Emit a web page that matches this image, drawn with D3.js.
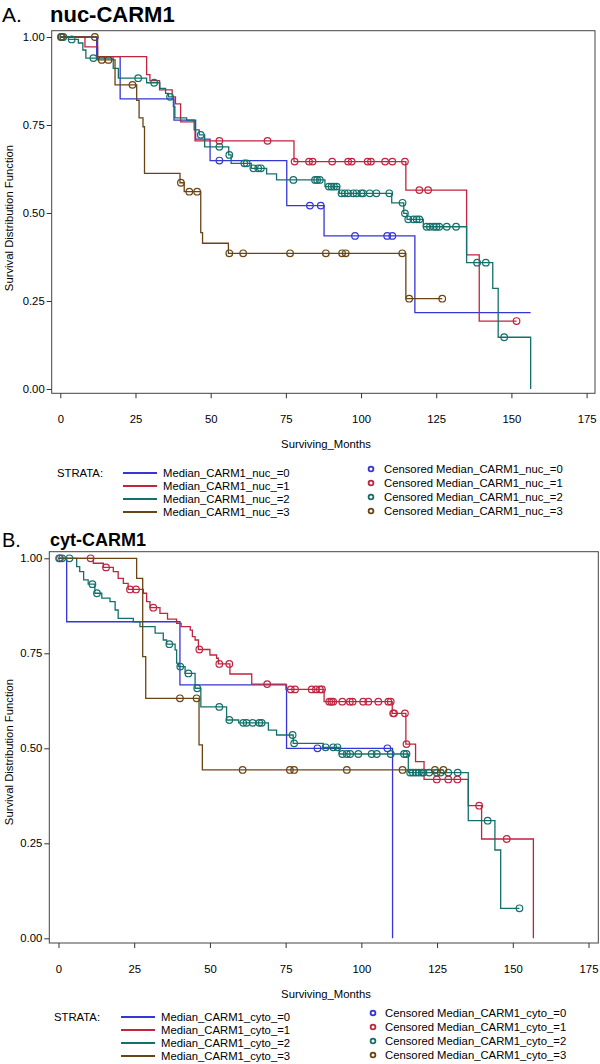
<!DOCTYPE html>
<html><head><meta charset="utf-8">
<script src="https://cdn.jsdelivr.net/npm/d3@7/dist/d3.min.js"></script>
<style>
body{margin:0;background:#fff}
svg{display:block}
text{font-family:"Liberation Sans",Arial,Helvetica,sans-serif;fill:#000}
</style>
</head><body>
<svg id="chart" width="600" height="1064"></svg>
<script>
// ---------- shared axis data ----------
const xTicks = [0, 25, 50, 75, 100, 125, 150, 175];
const xTickLabels = ["0", "25", "50", "75", "100", "125", "150", "175"];
const yTicks = [0, 0.25, 0.5, 0.75, 1];
const yTickLabels = ["0.00", "0.25", "0.50", "0.75", "1.00"];
const xAxisTitle = "Surviving_Months";
const yAxisTitle = "Survival Distribution Function";
const seriesColors = ["#3535d8", "#c0243f", "#13706a", "#6b4414"];

// ---------- Panel A : nuc-CARM1 ----------
const nucTitle = ["A.", "nuc-CARM1"];
const nucStrata = ["Median_CARM1_nuc_=0", "Median_CARM1_nuc_=1", "Median_CARM1_nuc_=2", "Median_CARM1_nuc_=3"];
const nucCensLabels = ["Censored Median_CARM1_nuc_=0", "Censored Median_CARM1_nuc_=1", "Censored Median_CARM1_nuc_=2", "Censored Median_CARM1_nuc_=3"];

const nuc0Steps = [[12.1,0.944],[19.9,0.824],[37.8,0.764],[45.0,0.710],[49.8,0.649],[75.3,0.521],[87.7,0.435],[117.9,0.217]];
const nuc0End = 156.4;
const nuc0Cens = [52.9, 83.0, 86.6, 98.0, 108.7, 110.4];

const nuc1Steps = [[8.2,0.972],[12.4,0.944],[28.7,0.893],[29.8,0.876],[33.0,0.850],[37.2,0.830],[38.3,0.810],[40.0,0.759],[44.8,0.705],[77.7,0.646],[114.9,0.565],[135.1,0.381],[139.3,0.193]];
const nuc1End = 151.7;
const nuc1Cens = [52.9, 68.9, 77.9, 82.7, 83.9, 90.4, 95.7, 96.9, 102.2, 103.3, 108.0, 110.4, 114.6, 119.4, 122.3, 151.7];

const nuc2Steps = [[2.7,0.993],[6.0,0.983],[7.5,0.963],[8.5,0.940],[17.6,0.911],[19.3,0.883],[28.7,0.870],[33.1,0.854],[35.0,0.840],[36.0,0.830],[37.6,0.802],[38.1,0.770],[42.0,0.764],[44.5,0.736],[46.2,0.722],[48.0,0.688],[56.0,0.665],[56.8,0.641],[63.5,0.627],[68.6,0.611],[71.9,0.594],[88.0,0.575],[92.8,0.556],[110.2,0.529],[114.2,0.499],[115.3,0.482],[120.7,0.461],[135.1,0.359],[143.8,0.286],[145.6,0.147],[156.4,0]];
const nuc2End = 156.4;
const nuc2Cens = [0.2, 1.0, 3.8, 11.0, 25.9, 31.2, 36.5, 46.7, 52.9, 56.2, 61.2, 62.0, 64.2, 65.8, 66.7, 77.5, 84.7, 85.4, 86.3, 89.3, 90.2, 91.0, 91.9, 93.5, 94.6, 95.7, 97.4, 98.5, 100.1, 100.7, 102.9, 105.1, 109.4, 113.8, 114.6, 115.7, 117.4, 118.5, 119.4, 121.8, 122.9, 124.2, 125.1, 126.0, 128.5, 131.6, 138.6, 141.5, 147.6];

const nuc3Steps = [[12.4,0.935],[18.2,0.864],[25.4,0.820],[26.2,0.770],[27.5,0.745],[28.0,0.6125],[39.8,0.586],[41.2,0.5605],[46.7,0.444],[47.3,0.414],[55.9,0.3855],[114.9,0.2566]];
const nuc3End = 127.0;
const nuc3Cens = [0.5, 11.5, 13.8, 16.0, 24.0, 40.1, 42.9, 45.5, 56.2, 60.8, 76.4, 88.3, 93.7, 94.9, 113.7, 116.0, 127.0];

// ---------- Panel B : cyt-CARM1 ----------
const cytTitle = ["B.", "cyt-CARM1"];
const cytStrata = ["Median_CARM1_cyto_=0", "Median_CARM1_cyto_=1", "Median_CARM1_cyto_=2", "Median_CARM1_cyto_=3"];
const cytCensLabels = ["Censored Median_CARM1_cyto_=0", "Censored Median_CARM1_cyto_=1", "Censored Median_CARM1_cyto_=2", "Censored Median_CARM1_cyto_=3"];

const cyt0Steps = [[2.7,0.833],[40.1,0.667],[75.3,0.500],[110.3,0]];
const cyt0End = 110.3;
const cyt0Cens = [85.5, 108.6];

const cyt1Steps = [[11.5,0.987],[14.8,0.976],[18.1,0.965],[19.7,0.947],[21.4,0.934],[23.0,0.918],[28.0,0.908],[29.1,0.886],[30.2,0.870],[33.5,0.855],[36.0,0.840],[39.0,0.829],[40.5,0.820],[43.5,0.811],[44.2,0.794],[45.1,0.785],[46.2,0.760],[50.0,0.7455],[52.2,0.737],[52.8,0.722],[56.6,0.6955],[63.8,0.669],[75.1,0.655],[87.7,0.6228],[110.2,0.592],[114.7,0.511],[117.9,0.465],[120.7,0.418],[135.3,0.349],[139.7,0.2613],[156.8,0]];
const cyt1End = 156.8;
const cyt1Cens = [0.5, 10.6, 15.7, 23.6, 25.6, 31.3, 46.5, 53.1, 56.4, 68.9, 76.7, 78.1, 83.6, 85.0, 86.3, 87.0, 89.4, 90.1, 90.7, 93.7, 96.2, 97.1, 100.6, 102.3, 105.6, 108.9, 109.7, 110.5, 110.8, 114.4, 114.9, 124.9, 128.7, 131.7, 138.9, 148.0];

const cyt2Steps = [[6.0,0.978],[7.0,0.965],[8.3,0.943],[9.8,0.932],[12.0,0.908],[14.3,0.895],[17.0,0.886],[18.7,0.864],[19.7,0.842],[24.7,0.833],[26.9,0.820],[31.9,0.803],[34.6,0.785],[35.7,0.774],[38.5,0.759],[39.0,0.724],[39.6,0.715],[41.8,0.697],[45.1,0.658],[47.0,0.609],[55.5,0.5745],[59.5,0.567],[69.3,0.548],[72.0,0.535],[77.5,0.513],[87.4,0.5026],[92.7,0.485],[115.5,0.436],[135.3,0.3095],[144.1,0.2324],[146.0,0.079]];
const cyt2End = 152.2;
const cyt2Cens = [0.2, 1.2, 3.6, 11.2, 12.7, 36.6, 40.2, 42.9, 45.8, 53.1, 56.4, 61.0, 62.1, 64.1, 66.3, 67.1, 77.3, 77.8, 88.2, 90.7, 92.1, 93.7, 95.2, 96.3, 99.0, 103.4, 105.1, 109.7, 114.1, 114.9, 116.1, 117.0, 118.0, 119.0, 120.0, 120.5, 122.4, 124.9, 126.2, 128.7, 131.8, 141.7, 152.2];

const cyt3Steps = [[25.8,0.947],[27.8,0.741],[28.8,0.6316],[46.4,0.509],[47.5,0.443]];
const cyt3End = 127.1;
const cyt3Cens = [40.1, 45.6, 60.8, 76.4, 77.8, 95.2, 113.6, 124.3, 127.1];

// ---------- layout (positions only) ----------
const panels = [
  {
    title: nucTitle, strata: nucStrata, cens: nucCensLabels,
    series: [
      {steps: nuc0Steps, end: nuc0End, cens: nuc0Cens},
      {steps: nuc1Steps, end: nuc1End, cens: nuc1Cens},
      {steps: nuc2Steps, end: nuc2End, cens: nuc2Cens},
      {steps: nuc3Steps, end: nuc3End, cens: nuc3Cens}
    ],
    frame: {l: 51.7, r: 595, t: 30.7, b: 393.3},
    xr: [60.3, 586.6], yr: [389, 37],
    titleY: 22, titleSize: 21, title2Size: 22, title2Y: 22, yLabelC: 218,
    strataX: 57, lineX: [123, 157], labelX: 163, circX: 371, censX: 384,
    strataRows: [473, 486, 499, 512], censRows: [469, 483, 497, 511]
  },
  {
    title: cytTitle, strata: cytStrata, cens: cytCensLabels,
    series: [
      {steps: cyt0Steps, end: cyt0End, cens: cyt0Cens},
      {steps: cyt1Steps, end: cyt1End, cens: cyt1Cens},
      {steps: cyt2Steps, end: cyt2End, cens: cyt2Cens},
      {steps: cyt3Steps, end: cyt3End, cens: cyt3Cens}
    ],
    frame: {l: 49.3, r: 598.3, t: 551.7, b: 943},
    xr: [58.5, 588.5], yr: [938.3, 558.3],
    titleY: 547, titleSize: 20, title2Size: 18, title2Y: 546, yLabelC: 752,
    strataX: 54, lineX: [121, 155], labelX: 161, circX: 373, censX: 385,
    strataRows: [1017, 1030, 1043, 1056], censRows: [1013, 1027, 1041, 1055]
  }
];

const svg = d3.select("#chart");
const FS = 11.3;

function survAt(steps, t) {
  let s = 1;
  for (const [st, sv] of steps) { if (st <= t) s = sv; else break; }
  return s;
}

panels.forEach(p => {
  const g = svg.append("g");
  const x = d3.scaleLinear().domain([0, 175]).range(p.xr);
  const y = d3.scaleLinear().domain([0, 1]).range(p.yr);
  const f = p.frame;

  // titles
  g.append("text").attr("x", 2).attr("y", p.titleY).attr("font-size", p.titleSize).text(p.title[0]);
  g.append("text").attr("x", 50).attr("y", p.title2Y).attr("font-size", p.title2Size).attr("font-weight", "bold").text(p.title[1]);

  // frame
  g.append("rect").attr("x", f.l).attr("y", f.t).attr("width", f.r - f.l).attr("height", f.b - f.t)
    .attr("fill", "none").attr("stroke", "#444").attr("stroke-width", 1);

  // y axis
  const yAxis = d3.axisLeft(y).tickValues(yTicks).tickFormat((d, i) => yTickLabels[i]).tickSize(5).tickPadding(2);
  const ya = g.append("g").attr("transform", `translate(${f.l},0)`).call(yAxis);
  ya.select(".domain").remove();
  ya.selectAll("line").attr("stroke", "#333");
  ya.selectAll("text").attr("font-size", FS).attr("font-family", "Liberation Sans, Arial, sans-serif").attr("fill", "#000");

  // x axis
  const xAxis = d3.axisBottom(x).tickValues(xTicks).tickFormat((d, i) => xTickLabels[i]).tickSize(5).tickPadding(17);
  const xa = g.append("g").attr("transform", `translate(0,${f.b})`).call(xAxis);
  xa.select(".domain").remove();
  xa.selectAll("line").attr("stroke", "#333");
  xa.selectAll("text").attr("font-size", FS).attr("font-family", "Liberation Sans, Arial, sans-serif").attr("fill", "#000");

  // axis titles
  g.append("text").attr("x", 326).attr("y", f.b + 55).attr("text-anchor", "middle").attr("font-size", FS).text(xAxisTitle);
  g.append("text").attr("transform", `translate(12.5,${p.yLabelC}) rotate(-90)`).attr("text-anchor", "middle")
    .attr("font-size", FS).text(yAxisTitle);

  // curves
  const line = d3.line().x(d => x(d[0])).y(d => y(d[1])).curve(d3.curveStepAfter);
  p.series.forEach((s, i) => {
    const pts = [[0, 1], ...s.steps];
    const last = pts[pts.length - 1];
    if (s.end > last[0]) pts.push([s.end, last[1]]);
    g.append("path").attr("d", line(pts)).attr("fill", "none")
      .attr("stroke", seriesColors[i]).attr("stroke-width", 1.3);
  });
  p.series.forEach((s, i) => {
    g.selectAll(null).data(s.cens).enter().append("circle")
      .attr("cx", d => x(d)).attr("cy", d => y(survAt(s.steps, d)))
      .attr("r", 3.3).attr("fill", "none").attr("stroke", seriesColors[i]).attr("stroke-width", 1.2);
  });

  // legend
  g.append("text").attr("x", p.strataX).attr("y", p.strataRows[0]).attr("dominant-baseline", "central")
    .attr("font-size", FS).text("STRATA:");
  p.strata.forEach((lab, i) => {
    const yy = p.strataRows[i];
    g.append("line").attr("x1", p.lineX[0]).attr("x2", p.lineX[1]).attr("y1", yy).attr("y2", yy)
      .attr("stroke", seriesColors[i]).attr("stroke-width", 2);
    g.append("text").attr("x", p.labelX).attr("y", yy).attr("dominant-baseline", "central").attr("font-size", FS).text(lab);
  });
  p.cens.forEach((lab, i) => {
    const yy = p.censRows[i];
    g.append("circle").attr("cx", p.circX).attr("cy", yy).attr("r", 2.4).attr("fill", "none")
      .attr("stroke", seriesColors[i]).attr("stroke-width", 1.8);
    g.append("text").attr("x", p.censX).attr("y", yy).attr("dominant-baseline", "central").attr("font-size", FS).text(lab);
  });
});
</script>
</body></html>
